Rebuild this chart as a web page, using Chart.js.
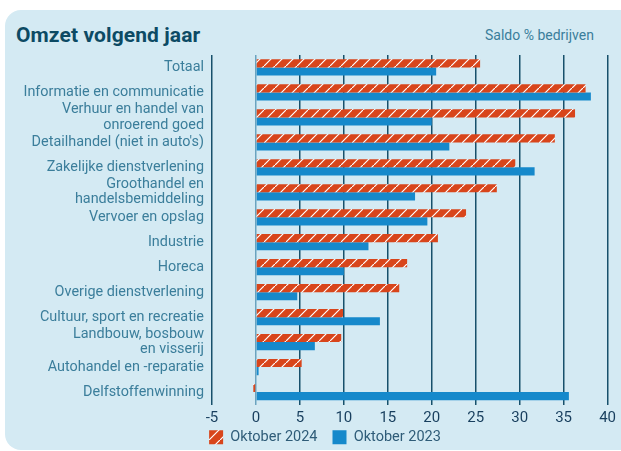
<!DOCTYPE html>
<html>
<head>
<meta charset="utf-8">
<script src="https://cdn.jsdelivr.net/npm/chart.js@4"></script>
<style>
  html, body { margin: 0; padding: 0; background: #fff; }
  #wrap { position: relative; width: 621px; height: 451px; overflow: hidden; }
  #card { position: absolute; left: 5px; top: 10px; width: 640px; height: 440px;
          background: #d4eaf3; border-radius: 16px; }
  #title { position: absolute; left: 16px; top: 23px; font: 700 21px Roboto, sans-serif;
           color: #0c4a64; letter-spacing: 0.1px; }
  #unit { position: absolute; left: 485px; top: 27px; font: 14px Roboto, sans-serif; color: #3b7e9b; }
  canvas { position: absolute; left: 0; top: 0; }
</style>
</head>
<body>
<div id="wrap">
  <div id="card"></div>
  <div id="title">Omzet volgend jaar</div>
  <div id="unit">Saldo % bedrijven</div>
  <canvas id="chart" width="621" height="451"></canvas>
</div>
<script>
const categories = [
  "Totaal",
  "Informatie en communicatie",
  ["Verhuur en handel van", "onroerend goed"],
  "Detailhandel (niet in auto's)",
  "Zakelijke dienstverlening",
  ["Groothandel en", "handelsbemiddeling"],
  "Vervoer en opslag",
  "Industrie",
  "Horeca",
  "Overige dienstverlening",
  "Cultuur, sport en recreatie",
  ["Landbouw, bosbouw", "en visserij"],
  "Autohandel en -reparatie",
  "Delfstoffenwinning"
];
const okt2024 = [25.5, 37.5, 36.3, 34.0, 29.5, 27.4, 23.9, 20.7, 17.2, 16.3, 9.9, 9.7, 5.2, -0.3];
const okt2023 = [20.5, 38.1, 20.0, 22.0, 31.7, 18.1, 19.5, 12.8, 10.0, 4.7, 14.1, 6.7, 0.3, 35.6];
const seriesNames = ["Oktober 2024", "Oktober 2023"];

// diagonal hatch for the 2024 bars
function makeHatch() {
  const n = 11;
  const c = document.createElement("canvas");
  c.width = n; c.height = n;
  const g = c.getContext("2d");
  g.fillStyle = "#d8451b";
  g.fillRect(0, 0, n, n);
  g.strokeStyle = "#ffffff";
  g.lineWidth = 1.2;
  g.beginPath();
  g.moveTo(-2, n + 2); g.lineTo(n + 2, -2);
  g.moveTo(-n - 2, 2); g.lineTo(2, -n - 2);
  g.moveTo(n - 2, 2 * n + 2); g.lineTo(2 * n + 2, n - 2);
  g.stroke();
  return g.createPattern(c, "repeat");
}

// legend sits a bit right of centre and close under the ticks
const legendPlace = {
  id: "legendPlace",
  afterLayout(chart) {
    const lg = chart.legend;
    const dy = 415 - lg.top;
    lg.top += dy; lg.bottom += dy;
    lg.left += 11; lg.right += 11;
  }
};

const ctx = document.getElementById("chart").getContext("2d");
const hatch = makeHatch();

new Chart(ctx, {
  type: "bar",
  data: {
    labels: categories,
    datasets: [
      { label: seriesNames[0], data: okt2024, backgroundColor: hatch, borderWidth: 0,
        categoryPercentage: 0.65, barPercentage: 1 },
      { label: seriesNames[1], data: okt2023, backgroundColor: "#1689cb", borderWidth: 0,
        categoryPercentage: 0.65, barPercentage: 1 }
    ]
  },
  options: {
    indexAxis: "y",
    responsive: false,
    animation: false,
    layout: { padding: { top: 55, left: 20, right: 13, bottom: -21 } },
    scales: {
      x: {
        min: -5,
        max: 40,
        border: { display: false },
        grid: {
          drawTicks: false,
          lineWidth: 1.5,
          color: c => c.tick && c.tick.value === 0 ? "#6aa3bf" : "#17506b"
        },
        ticks: {
          stepSize: 5,
          padding: 5,
          color: "#183f5e",
          font: { family: "Roboto", size: 15 }
        }
      },
      y: {
        border: { display: false },
        grid: { display: false, drawTicks: false },
        ticks: {
          autoSkip: false,
          padding: 8,
          color: "#3b7e9b",
          font: { family: "Roboto", size: 14.4, lineHeight: 1.05 }
        },
        afterFit: s => { s.width = 192; }
      }
    },
    plugins: {
      legend: {
        position: "bottom",
        labels: {
          boxWidth: 14,
          boxHeight: 14,
          padding: 15,
          color: "#2f5c78",
          font: { family: "Roboto", size: 14.5 }
        }
      },
      tooltip: { enabled: false }
    }
  },
  plugins: [legendPlace]
});
</script>
</body>
</html>
